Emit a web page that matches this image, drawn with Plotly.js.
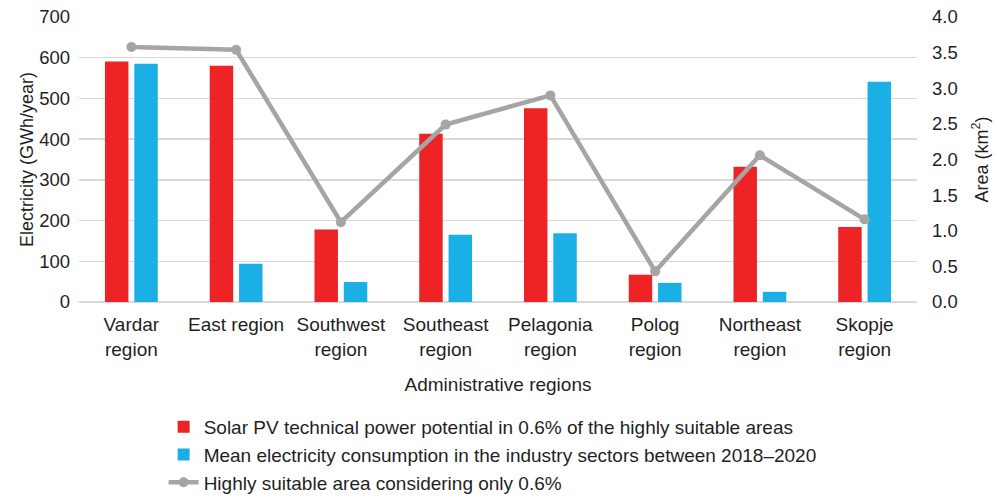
<!DOCTYPE html>
<html><head><meta charset="utf-8">
<script src="https://cdn.plot.ly/plotly-3.0.1.min.js"></script>
<style>html,body{margin:0;padding:0;background:#fff}#chart{width:997px;height:500px}</style>
</head><body><div id="chart"></div>
<script>
const categories = ["Vardar<br>region","East region","Southwest<br>region","Southeast<br>region","Pelagonia<br>region","Polog<br>region","Northeast<br>region","Skopje<br>region"];
const solarPotential = [591, 580, 178, 413, 476, 67, 332, 184];
const industryConsumption = [585, 94, 49, 165, 169, 47, 25, 541];
const suitableArea = [3.58, 3.54, 1.12, 2.49, 2.90, 0.43, 2.06, 1.16];
const leftTicks = [0,100,200,300,400,500,600,700];
const rightTicks = [0,0.5,1,1.5,2,2.5,3,3.5,4];
const rightTickLabels = ["0.0","0.5","1.0","1.5","2.0","2.5","3.0","3.5","4.0"];

const fam = "Liberation Sans, Arial, sans-serif";
const col = "#1f1f1f";
const traces = [
  {type:"bar", x:categories, y:solarPotential, name:"Solar PV technical power potential in 0.6% of the highly suitable areas", marker:{color:"#EE2326"}},
  {type:"bar", x:categories, y:industryConsumption, name:"Mean electricity consumption in the industry sectors between 2018–2020", marker:{color:"#1AAFE5"}},
  {type:"scatter", mode:"lines+markers", x:categories, y:suitableArea, yaxis:"y2", name:"Highly suitable area considering only 0.6%", line:{color:"#A5A5A5", width:4.5}, marker:{color:"#A5A5A5", size:10}}
];
const layout = {
  width:997, height:500,
  margin:{l:79, r:80, t:17, b:198, autoexpand:false},
  font:{family:fam, size:18, color:col},
  paper_bgcolor:"#fff", plot_bgcolor:"#fff",
  barmode:"group", bargap:0.44, bargroupgap:0.2,
  showlegend:true,
  legend:{x:0.101, y:-0.372, xanchor:"left", yanchor:"top", orientation:"v", font:{family:fam, size:19, color:col}, itemwidth:30},
  xaxis:{automargin:false, tickfont:{size:19}, ticks:"", showline:false, ticklabelstandoff:9, title:{text:"Administrative regions", font:{size:19}, standoff:18}},
  yaxis:{automargin:false, range:[0,700], tickvals:leftTicks, tickfont:{size:18.5}, gridcolor:"#D9D9D9", gridwidth:1.5, zeroline:true, zerolinecolor:"#D9D9D9", zerolinewidth:1.5, showline:false, ticks:"", ticklabelstandoff:8, title:{text:"Electricity (GWh/year)", font:{size:18}, standoff:0}},
  yaxis2:{automargin:false, overlaying:"y", side:"right", range:[0,4], tickvals:rightTicks, ticktext:rightTickLabels, tickfont:{size:18.5}, showgrid:false, zeroline:false, showline:false, ticks:"", ticklabelstandoff:14, title:{text:"Area (km<sup>2</sup>)", font:{size:18}, standoff:18}}
};
Plotly.newPlot("chart", traces, layout, {displayModeBar:false, staticPlot:true});
</script></body></html>
